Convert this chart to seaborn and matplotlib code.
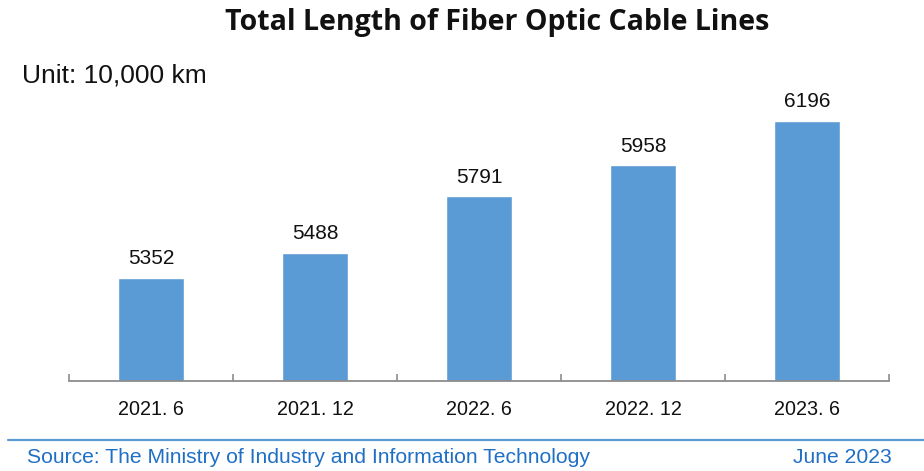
import matplotlib
matplotlib.use("Agg")
import matplotlib.pyplot as plt
import seaborn as sns
import pandas as pd
import numpy as np

periods = ["2021. 6", "2021. 12", "2022. 6", "2022. 12", "2023. 6"]
lengths = [5352, 5488, 5791, 5958, 6196]

df = pd.DataFrame({"Period": periods, "Length": lengths})

sns.set_theme(style="white")
plt.rcParams["font.family"] = ["Liberation Sans", "DejaVu Sans"]

fig = plt.figure(figsize=(9.24, 4.71), dpi=100)
ax = fig.add_axes([0.0747, 0.191, 0.8874, 0.633])

bar_color = "#5B9BD5"
sns.barplot(data=df, x="Period", y="Length", color=bar_color, width=0.4,
            saturation=1, ax=ax)

ax.set_ylim(4800, 6400)
ax.set_xlim(-0.5, len(periods) - 0.5)

# value labels
for container in ax.containers:
    ax.bar_label(container, fmt="%d", padding=7, fontsize=15, color="#111111")

# axis styling
for side in ["top", "right", "left"]:
    ax.spines[side].set_visible(False)
ax.spines["bottom"].set_color("#8c8c8c")
ax.spines["bottom"].set_linewidth(1.3)
ax.set_yticks([])
ax.set_xlabel("")
ax.set_ylabel("")
ax.tick_params(axis="x", which="major", bottom=False, length=0, pad=14,
               labelsize=14.2, labelcolor="#111111")
ax.set_xticks(np.arange(-0.5, len(periods)), minor=True)
ax.tick_params(axis="x", which="minor", bottom=True, direction="in", length=5,
               color="#8c8c8c", width=1.2)

fig.text(0.538, 0.953, "Total Length of Fiber Optic Cable Lines",
         ha="center", va="center", fontsize=20.5, fontweight="bold",
         family=["Open Sans", "DejaVu Sans"], color="#111111")
fig.text(0.024, 0.84, "Unit: 10,000 km", ha="left", va="center",
         fontsize=19, color="#111111")

# footer
fig.add_artist(plt.Line2D([0.009, 1.0], [0.066, 0.066],
                          transform=fig.transFigure, color="#5B9BD5",
                          linewidth=1.6))
footer_color = "#1F6FC5"
fig.text(0.029, 0.029, "Source: The Ministry of Industry and Information Technology",
         ha="left", va="center", fontsize=15.2, color=footer_color)
fig.text(0.965, 0.029, "June 2023", ha="right", va="center",
         fontsize=15.2, color=footer_color)

fig.savefig("out.png", dpi=100)
